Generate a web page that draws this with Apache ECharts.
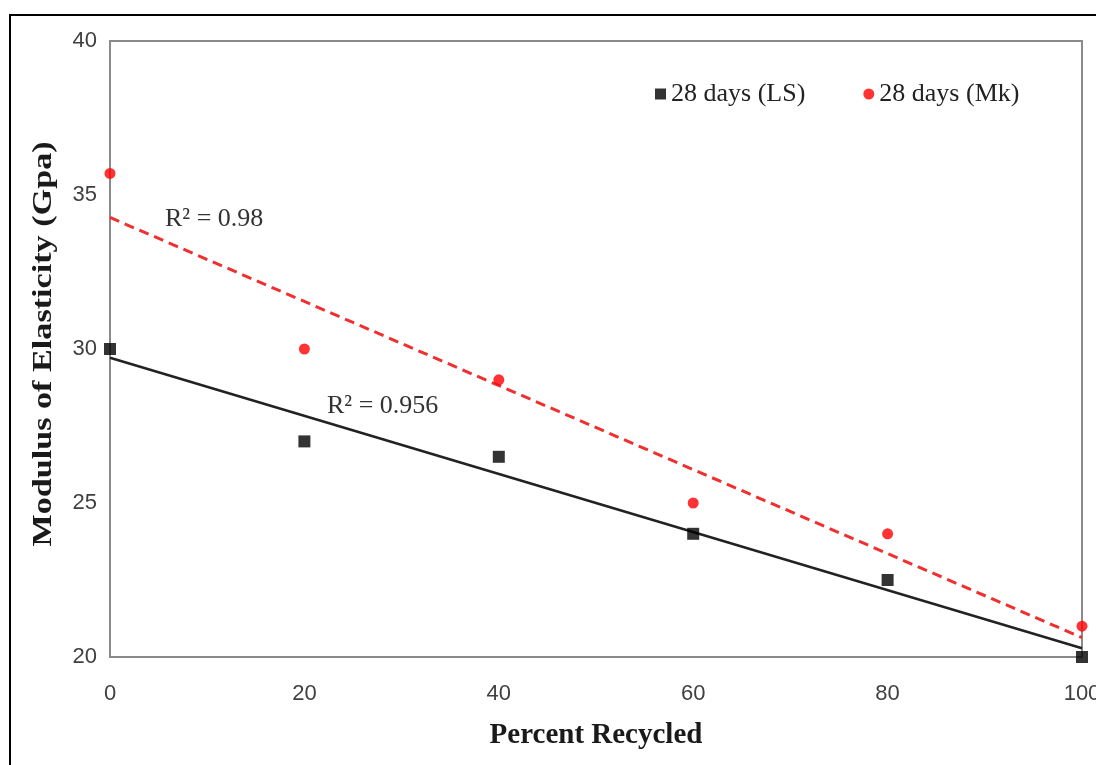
<!DOCTYPE html>
<html>
<head>
<meta charset="utf-8">
<style>
  html, body { margin: 0; padding: 0; background: #ffffff; overflow: hidden; }
  #chart { width: 1096px; height: 765px; }
</style>
<script src="https://cdn.jsdelivr.net/npm/echarts@6/dist/echarts.min.js"></script>
</head>
<body>
<div id="chart"></div>
<script>
// Percent recycled aggregate (x) and 28-day modulus of elasticity (GPa)
const percentRecycled = [0, 20, 40, 60, 80, 100];
const modulusLS = [30, 27, 26.5, 24, 22.5, 20];
const modulusMk = [35.7, 30, 29, 25, 24, 21];
const seriesNames = ['28 days (LS)', '28 days (Mk)'];
const r2Labels = ['R\u00B2 = 0.956', 'R\u00B2 = 0.98'];
const xTicks = [0, 20, 40, 60, 80, 100];
const yTicks = [20, 25, 30, 35, 40];
const yTitle = 'Modulus of Elasticity (Gpa)';
const xTitle = 'Percent Recycled';

// Least-squares linear fit, evaluated at the ends of the x range
function linearFit(xs, ys) {
  const n = xs.length;
  const mx = xs.reduce((a, b) => a + b, 0) / n;
  const my = ys.reduce((a, b) => a + b, 0) / n;
  let sxy = 0, sxx = 0;
  for (let i = 0; i < n; i++) {
    sxy += (xs[i] - mx) * (ys[i] - my);
    sxx += (xs[i] - mx) * (xs[i] - mx);
  }
  const slope = sxy / sxx;
  const intercept = my - slope * mx;
  const x0 = xs[0], x1 = xs[n - 1];
  return [[x0, intercept + slope * x0], [x1, intercept + slope * x1]];
}

const pairs = (xs, ys) => xs.map((x, i) => [x, ys[i]]);

const chart = echarts.init(document.getElementById('chart'), null, { renderer: 'canvas' });

const serif = '"Liberation Serif", "Times New Roman", serif';
const sans = '"Liberation Sans", Arial, sans-serif';

chart.setOption({
  animation: false,
  backgroundColor: '#ffffff',
  grid: {
    left: 110, top: 41, right: 14, bottom: 108,
    outerBoundsMode: 'none', containLabel: false,
    show: true, borderColor: '#8a8a8a', borderWidth: 2, backgroundColor: 'transparent'
  },
  legend: {
    top: 76, left: 650,
    itemGap: 58,
    itemWidth: 11, itemHeight: 11,
    textStyle: { fontFamily: serif, fontSize: 26, color: '#222', padding: [0, 0, 0, 0] },
    data: [
      { name: seriesNames[0], icon: 'rect' },
      { name: seriesNames[1], icon: 'circle' }
    ]
  },
  xAxis: {
    type: 'value', min: xTicks[0], max: xTicks[xTicks.length - 1], interval: 20,
    name: xTitle, nameLocation: 'middle', nameGap: 64,
    nameTextStyle: { fontFamily: serif, fontSize: 29, fontWeight: 'bold', color: '#1a1a1a' },
    axisLine: { show: true, lineStyle: { color: '#8a8a8a', width: 2 } },
    axisTick: { show: false },
    splitLine: { show: false },
    axisLabel: { fontFamily: sans, fontSize: 22, color: '#404040', margin: 26 }
  },
  yAxis: {
    type: 'value', min: yTicks[0], max: yTicks[yTicks.length - 1], interval: 5,
    axisLine: { show: true, lineStyle: { color: '#8a8a8a', width: 2 } },
    axisTick: { show: false },
    splitLine: { show: false },
    axisLabel: { fontFamily: sans, fontSize: 22, color: '#404040', margin: 13 }
  },
  series: [
    {
      name: seriesNames[0] + ' fit', type: 'line',
      data: linearFit(percentRecycled, modulusLS),
      showSymbol: false, silent: true, z: 2,
      lineStyle: { color: '#222', width: 2.5, type: 'solid' }
    },
    {
      name: seriesNames[1] + ' fit', type: 'line',
      data: linearFit(percentRecycled, modulusMk),
      showSymbol: false, silent: true, z: 2,
      lineStyle: { color: '#f03030', width: 3, type: [10, 6] }
    },
    {
      name: seriesNames[0], type: 'scatter',
      data: pairs(percentRecycled, modulusLS),
      symbol: 'rect', symbolSize: 12, z: 3,
      itemStyle: { color: '#000000' }
    },
    {
      name: seriesNames[1], type: 'scatter',
      data: pairs(percentRecycled, modulusMk),
      symbol: 'circle', symbolSize: 11, z: 3,
      itemStyle: { color: '#ff0000' }
    }
  ],
  graphic: [
    {
      type: 'rect', silent: true, z: 0,
      shape: { x: 10, y: 15, width: 1200, height: 900 },
      style: { fill: 'none', stroke: '#000', lineWidth: 2 }
    },
    {
      // vertical axis title, stretched along its length
      type: 'text', x: 44, y: 344, rotation: Math.PI / 2, scaleX: 1.22, scaleY: 1, silent: true,
      style: {
        text: yTitle, font: 'bold 28px ' + serif, fill: '#1a1a1a',
        align: 'center', verticalAlign: 'middle'
      }
    },
    {
      type: 'text', left: 327, top: 393, silent: true,
      style: { text: r2Labels[0], font: '26px ' + serif, fill: '#333' }
    },
    {
      type: 'text', left: 165, top: 206, silent: true,
      style: { text: r2Labels[1], font: '26px ' + serif, fill: '#333' }
    }
  ]
});
</script>
</body>
</html>
